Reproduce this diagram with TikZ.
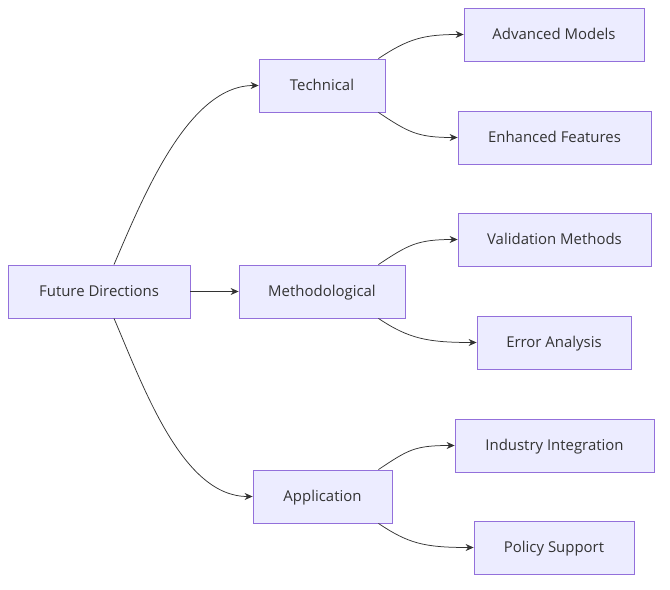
\documentclass[tikz,border=0pt]{standalone}
\usepackage{fontspec}
\setmainfont{Open Sans}
\definecolor{boxfill}{HTML}{ECECFF}
\definecolor{boxline}{HTML}{9370DB}
\definecolor{txtgray}{HTML}{333333}
\usetikzlibrary{arrows.meta,positioning}

\begin{document}
\begin{tikzpicture}[x=1bp, y=-1bp, every node/.style={font=\fontsize{15}{18}\selectfont, text=txtgray}]
    \tikzset{
        dirbox/.style={draw=boxline, fill=boxfill, line width=0.8pt, minimum height=53bp, inner sep=0pt, text height=10.7bp, text depth=0pt},
        arr/.style={-{Stealth[length=8bp,width=7bp]}, draw=txtgray, line width=0.75pt}
    }
    \useasboundingbox (0,0) rectangle (670,590);

    % Root
    \node[dirbox, minimum width=182bp] (fut) at (99,291.5) {Future Directions};

    % Branches
    \node[dirbox, minimum width=126bp] (tech) at (322,85.5) {Technical};
    \node[dirbox, minimum width=166bp] (meth) at (322,291.5) {Methodological};
    \node[dirbox, minimum width=139bp] (appl) at (322.5,496.5) {Application};

    % Leaves
    \node[dirbox, minimum width=180bp] (adv) at (554,34.5) {Advanced Models};
    \node[dirbox, minimum width=193bp] (enh) at (554.5,137.5) {Enhanced Features};
    \node[dirbox, minimum width=193bp] (val) at (554.5,239.5) {Validation Methods};
    \node[dirbox, minimum width=154bp] (err) at (554,342.5) {Error Analysis};
    \node[dirbox, minimum width=199bp] (ind) at (554.5,445.5) {Industry Integration};
    \node[dirbox, minimum width=160bp] (pol) at (554,547.5) {Policy Support};

    % Arrows
    \draw[arr] ([xshift=15bp]fut.north) .. controls +(30,-70) and +(-70,0) .. (tech.west);
    \draw[arr] (fut.east) -- (meth.west);
    \draw[arr] ([xshift=15bp]fut.south) .. controls +(30,70) and +(-70,0) .. (appl.west);

    \draw[arr] ([xshift=-7bp]tech.north east) .. controls +(30,-20) and +(-40,0) .. (adv.west);
    \draw[arr] ([xshift=-7bp]tech.south east) .. controls +(30,20) and +(-40,0) .. (enh.west);
    \draw[arr] ([xshift=-27bp]meth.north east) .. controls +(30,-20) and +(-40,0) .. (val.west);
    \draw[arr] ([xshift=-27bp]meth.south east) .. controls +(30,20) and +(-50,0) .. (err.west);
    \draw[arr] ([xshift=-14bp]appl.north east) .. controls +(30,-20) and +(-40,0) .. (ind.west);
    \draw[arr] ([xshift=-14bp]appl.south east) .. controls +(30,20) and +(-50,0) .. (pol.west);
\end{tikzpicture}
\end{document}
